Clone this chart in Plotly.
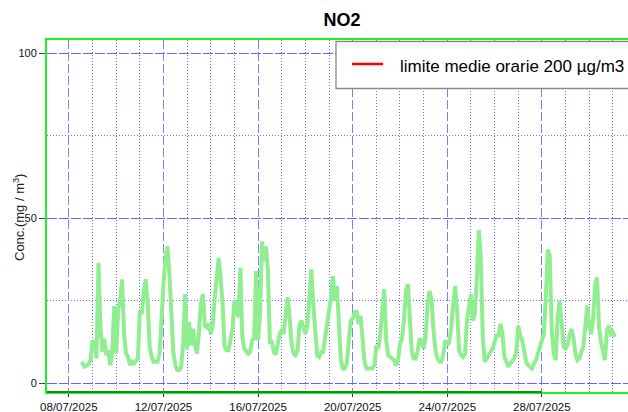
import pandas as pd
import plotly.graph_objects as go

# ---------------- data ----------------
chart_title = "NO2"
y_axis_label = "Conc.(mg / m<sup>3</sup>)"
limit_label = "limite medie orarie 200 µg/m3"
limit_value = 200

series_start = "2025-07-08 12:00"
step_hours = 2

# NO2 values, every 2 hours
no2_values = [
    # 08/07 (from 12:00)
    6.2, 6.0, 5.0, 5.5, 5.8, 7.0,
    # 09/07
    13, 12, 7.5, 36.5, 17, 9.5, 13.5, 8.5, 10, 5.5, 9.5, 23.5,
    # 10/07
    9, 22, 25, 31.5, 15, 9, 8, 5.5, 6.5, 6, 7, 7.5,
    # 11/07
    22, 21, 28, 31.5, 24, 11, 8, 6.5, 6.5, 6.5, 9, 22,
    # 12/07
    30, 38, 41.5, 33, 21, 9.5, 5.5, 4, 4, 5, 12, 27,
    # 13/07
    10.5, 18.5, 11.5, 16.5, 11.5, 9, 15.5, 24, 27, 17.5, 17, 18,
    # 14/07
    15, 17.5, 26, 32, 38, 32, 24, 11, 10, 10, 13.5, 16.5,
    # 15/07
    25, 22, 20, 35, 14, 10.5, 9.5, 9, 9.5, 13, 13.5, 34,
    # 16/07
    13, 21, 43, 37, 41.5, 34, 12.5, 12.5, 9.5, 8.7, 12, 15,
    # 17/07
    16, 15, 21, 26, 20, 12, 9, 8.5, 10, 17.5, 19, 16.5,
    # 18/07
    15, 17.5, 25, 34.5, 24, 16, 8.5, 8, 9.5, 9.5, 13, 18,
    # 19/07
    22, 26, 32.5, 25, 29.5, 15, 7, 4.5, 4.5, 6, 13, 19,
    # 20/07
    19.5, 21.5, 22, 18, 20.5, 13, 6.5, 4.5, 4.5, 4.5, 4.5, 5.5,
    # 21/07
    11.5, 10.5, 15, 22, 28.5, 13, 8.5, 8, 7.5, 7, 5.5, 7,
    # 22/07
    12, 13.5, 19, 28, 30, 21, 9.5, 7.5, 7.5, 10, 13.5, 13,
    # 23/07
    10.5, 14, 24, 28, 25.5, 16, 10, 7.5, 6.5, 6.5, 9, 13,
    # 24/07
    11.5, 12.5, 17, 24, 29.5, 22, 10, 8.5, 8, 9, 19, 23,
    # 25/07
    27, 19, 21, 32, 46.5, 38, 14, 6.5, 7.5, 8.5, 9.5, 10.5,
    # 26/07
    12.5, 14.5, 14.5, 18, 15, 8, 6.5, 5, 6, 7, 7.5, 9.5,
    # 27/07
    17.5, 14.5, 13, 10, 6.5, 5.5, 5, 4.5, 6, 7, 9, 11,
    # 28/07
    12.5, 15, 26, 40.5, 38.5, 16, 9, 7, 20, 25, 18.5, 11,
    # 29/07
    10.5, 11.5, 14.5, 16.5, 14, 9, 7, 7.5, 9.5, 11, 17, 23.5,
    # 30/07
    17.5, 15, 19.5, 30, 32, 17, 12.5, 9.5, 7, 16, 17.5, 15,
    # 31/07
    15.5, 14,
]

# plot area is wider than the 628 px window: its right side is cut off, as in the original
x_range = ["2025-07-07 01:47", "2025-08-01 13:43"]
y_range = [-2.64, 104.03]
x_tick_start = "2025-07-08"
y_tick_values = [0, 50, 100]

# ---------------- figure ----------------
times = pd.date_range(series_start, periods=len(no2_values), freq=f"{step_hours}h")

FONT = "Liberation Sans, Arial, sans-serif"
GREEN_FRAME = "#22ee22"
GRID_MAJOR = "rgb(100,100,255)"
GRID_MAJOR_X = "rgb(125,125,255)"
GRID_MINOR = "rgb(110,110,255)"
DAY_MS = 86400000

fig = go.Figure()
fig.add_trace(go.Scatter(
    x=times, y=no2_values, mode="lines",
    line=dict(color="rgb(144,238,144)", width=4),
    name="NO2", showlegend=False,
))
fig.add_trace(go.Scatter(
    x=[times[0], times[-1]], y=[limit_value, limit_value], mode="lines",
    line=dict(color="red", width=2.5),
    name=limit_label, showlegend=False,
))

W, H = 660, 412
ML, MR, MT, MB = 47, 10, 40, 20
PW, PH = W - ML - MR, H - MT - MB


def px_x(p):
    return (p - ML) / PW


def px_y(p):
    return (H - MB - p) / PH


fig.update_layout(
    width=W, height=H,
    margin=dict(l=ML, r=MR, t=MT, b=MB, autoexpand=False),
    paper_bgcolor="white", plot_bgcolor="white",
    showlegend=False,
    font=dict(family=FONT, size=11.5, color="#111"),
    title=dict(text="<b>" + chart_title + "</b>", x=342 / W, xanchor="center",
               y=1 - 20 / H, yanchor="middle", yref="container",
               font=dict(family=FONT, size=18, color="#000")),
    xaxis=dict(
        type="date", range=x_range,
        tick0=x_tick_start, dtick=4 * DAY_MS, tickformat="%d/%m/%Y",
        ticks="outside", ticklen=3, tickcolor="#333",
        showgrid=True, gridcolor=GRID_MAJOR_X, gridwidth=1, griddash="9px,3px",
        minor=dict(tick0=x_tick_start, dtick=DAY_MS, showgrid=True,
                   gridcolor=GRID_MINOR, gridwidth=1, griddash="1px,2px"),
        showline=True, linecolor=GREEN_FRAME, linewidth=2, mirror=True,
        zeroline=False, tickfont=dict(size=11.5, color="#111"),
    ),
    yaxis=dict(
        range=y_range, tickvals=y_tick_values,
        ticks="outside", ticklen=6, tickcolor="#444",
        showgrid=True, gridcolor=GRID_MAJOR, gridwidth=1, griddash="9px,3px",
        minor=dict(dtick=25, tick0=0, showgrid=True,
                   gridcolor=GRID_MINOR, gridwidth=1, griddash="1px,2px"),
        showline=True, linecolor=GREEN_FRAME, linewidth=2, mirror=False,
        zeroline=False, tickfont=dict(size=11, color="#111"),
    ),
)

# darker bottom edge up to 28/07
fig.add_shape(type="line", xref="paper", yref="paper",
              x0=0, x1=(pd.Timestamp("2025-07-28") - pd.Timestamp(x_range[0])) /
              (pd.Timestamp(x_range[1]) - pd.Timestamp(x_range[0])),
              y0=0, y1=0, line=dict(color="#1a8a1a", width=2))

# legend box (drawn as shapes, cut by the window edge like the original)
fig.add_shape(type="rect", xref="paper", yref="paper",
              x0=px_x(336), x1=1.0, y0=px_y(88.5), y1=px_y(41.5),
              line=dict(color="#8a8a8a", width=1.3), fillcolor="white", layer="above")
fig.add_shape(type="line", xref="paper", yref="paper",
              x0=px_x(352), x1=px_x(383), y0=px_y(64), y1=px_y(64),
              line=dict(color="red", width=2.5), layer="above")
fig.add_annotation(text=limit_label, xref="paper", yref="paper",
                   x=px_x(398), y=px_y(66), xanchor="left", yanchor="middle",
                   showarrow=False, font=dict(family=FONT, size=17, color="#000"))

# y axis title
fig.add_annotation(text=y_axis_label, xref="paper", yref="paper",
                   x=px_x(19), y=px_y(218), xanchor="center", yanchor="middle",
                   textangle=-90, showarrow=False,
                   font=dict(family=FONT, size=13, color="#222"))

fig.write_html(
    "out.html",
    config={"displayModeBar": False},
    post_script="document.body.style.margin='0';document.body.style.overflow='hidden';",
)
